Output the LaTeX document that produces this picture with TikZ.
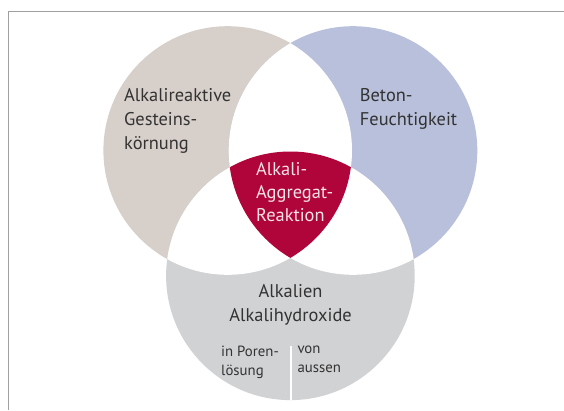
\documentclass[tikz,border=0pt]{standalone}
\usepackage{fontspec}
\setmainfont{PT Sans}
\definecolor{beige}{HTML}{D7CFCA}
\definecolor{bluec}{HTML}{B8C0DB}
\definecolor{grayc}{HTML}{D1D2D4}
\definecolor{redc}{HTML}{B0053A}
\definecolor{txt}{HTML}{333333}
\definecolor{pinktxt}{HTML}{F6E3E8}
\definecolor{frame}{HTML}{A0A0A0}
\begin{document}
\begin{tikzpicture}[x=1pt,y=-1pt,
  bigtext/.style={inner sep=0pt,anchor=north west,align=left,text=txt,font=\fontsize{18.4}{24}\selectfont},
  redtext/.style={inner sep=0pt,anchor=north west,align=left,text=pinktxt,font=\fontsize{18.4}{23}\selectfont},
  smalltext/.style={inner sep=0pt,anchor=north west,align=left,text=txt,font=\fontsize{14.8}{19}\selectfont}]
\useasboundingbox (0,0) rectangle (564,410);
\def\rr{124.3}
\coordinate (cl) at (227.7,150.5);
\coordinate (cr) at (353,150.5);
\coordinate (cb) at (290.4,275.8);
% frame
\draw[frame,line width=1.2pt] (8.3,410) -- (8.3,11.7) -- (564,11.7);
% circles
\fill[beige] (cl) circle (\rr);
\fill[bluec] (cr) circle (\rr);
\fill[grayc] (cb) circle (\rr);
\begin{scope}
  \clip (cl) circle (\rr);
  \fill[white] (cr) circle (\rr);
  \fill[white] (cb) circle (\rr);
\end{scope}
\begin{scope}
  \clip (cr) circle (\rr);
  \fill[white] (cb) circle (\rr);
\end{scope}
\begin{scope}
  \clip (cl) circle (\rr);
  \clip (cr) circle (\rr);
  \fill[redc] (cb) circle (\rr);
\end{scope}
% divider
\coordinate (dtop) at (290.7,346);
\coordinate (dbot) at (290.7,402);
\begin{scope}
  \clip (cb) circle (\rr);
  \draw[white,line width=2pt] (dtop) -- (dbot);
\end{scope}
% texts
\node[bigtext] (gestein) at (124,88.5) {Alkalireaktive\\Gesteins-\\körnung};
\node[bigtext] (beton) at (359.7,88.5) {Beton-\\Feuchtigkeit};
\node[redtext] (aar) at (256,162.5) {Alkali-\\Aggregat-\\Reaktion};
\node[bigtext,align=center,anchor=north] (alk) at (290.6,284) {Alkalien\\Alkalihydroxide};
\node[smalltext] (pore) at (221,345.5) {in Poren-\\lösung};
\node[smalltext] (aussen) at (297.3,345.5) {von\\aussen};
\end{tikzpicture}
\end{document}
